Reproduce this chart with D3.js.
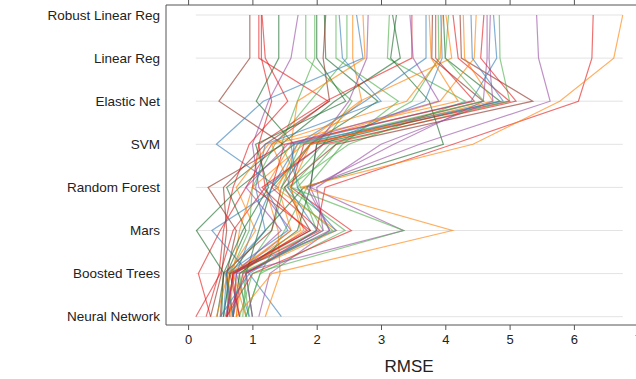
<!DOCTYPE html>
<html>
<head>
<meta charset="utf-8">
<script src="https://cdn.jsdelivr.net/npm/d3@7"></script>
<style>
  body { margin: 0; background: #fff; }
  svg { display: block; font-family: "Liberation Sans", Arial, sans-serif; }
</style>
</head>
<body>
<div id="chart"></div>
<script>
// model order, top to bottom
const models = ["Robust Linear Reg", "Linear Reg", "Elastic Net", "SVM",
                "Random Forest", "Mars", "Boosted Trees", "Neural Network"];

// RMSE per resample (index = resample), one array per model
const robustLinearReg = [0.96, 1.10, 1.14, 1.41, 1.71, 1.83, 1.97, 2.12, 2.14, 2.30, 2.47, 2.56,
  2.62, 2.72, 2.80, 3.13, 3.18, 3.24, 3.48, 3.70, 3.80, 3.89, 3.93, 3.97, 4.01, 4.12, 4.23, 4.28,
  4.48, 4.65, 4.70, 4.75, 4.84, 5.42, 6.30, 6.76,
  3.85, 3.75, 2.35, 4.05, 3.45, 2.00, 4.60, 4.40, 3.95, 1.15];
const linearReg = [0.96, 1.10, 1.14, 1.41, 1.60, 1.83, 1.97, 2.14, 2.10, 2.30, 2.47, 2.56,
  2.72, 2.75, 2.78, 3.10, 3.30, 3.15, 3.48, 3.70, 3.79, 3.90, 3.95, 4.00, 4.10, 4.20, 4.25, 4.30,
  4.45, 4.65, 4.68, 4.80, 4.85, 5.45, 6.28, 6.62,
  3.85, 3.78, 2.40, 4.00, 3.50, 2.00, 4.55, 4.42, 3.92, 1.20];
const elasticNet = [0.48, 2.18, 1.30, 1.06, 1.25, 2.55, 1.70, 2.95, 2.20, 3.27, 1.90, 2.70,
  1.17, 1.70, 2.50, 4.31, 2.28, 3.75, 2.14, 2.75, 4.59, 3.48, 3.68, 4.85, 2.67, 5.00, 5.36, 4.74,
  3.92, 4.59, 4.74, 4.40, 5.00, 5.63, 6.07, 5.78,
  4.45, 4.20, 3.00, 4.60, 3.90, 2.45, 5.10, 4.90, 3.40, 1.55];
const svm = [1.48, 1.30, 1.10, 1.65, 1.00, 2.10, 1.45, 1.90, 1.20, 2.40, 1.35, 1.90,
  0.44, 1.60, 2.00, 2.50, 1.45, 3.97, 1.10, 1.70, 1.90, 2.30, 2.10, 2.00, 1.80, 1.80, 2.30, 1.90,
  1.70, 3.20, 3.00, 1.60, 2.20, 3.60, 4.12, 4.43,
  1.50, 1.30, 1.20, 1.75, 1.55, 1.05, 2.10, 1.65, 1.25, 0.95];
const randomForest = [0.31, 0.90, 1.20, 0.80, 1.10, 1.50, 1.75, 1.30, 0.55, 1.85, 1.00, 1.60,
  1.40, 1.20, 1.90, 1.55, 0.60, 1.80, 1.00, 1.30, 1.45, 1.70, 1.20, 1.90, 1.00, 1.60, 1.50, 1.35,
  1.40, 1.90, 2.00, 1.70, 1.60, 1.85, 2.13, 1.75,
  1.30, 1.60, 1.05, 1.45, 0.90, 1.25, 1.15, 1.55, 0.75, 0.70];
const mars = [0.75, 0.50, 0.70, 0.13, 1.60, 1.30, 2.00, 1.10, 0.60, 1.50, 0.95, 1.80,
  0.37, 1.40, 2.20, 2.44, 0.90, 1.20, 1.90, 1.00, 1.30, 2.10, 1.55, 1.70, 0.80, 2.54, 1.90, 2.31,
  1.60, 3.35, 2.10, 2.30, 3.35, 2.20, 2.00, 4.11,
  2.05, 1.75, 1.20, 2.25, 1.45, 0.85, 1.85, 2.00, 1.05, 0.55];
const boostedTrees = [0.60, 0.16, 0.50, 0.56, 0.75, 0.85, 0.70, 0.90, 0.52, 1.12, 0.65, 0.80,
  0.95, 1.43, 1.27, 1.12, 0.60, 0.65, 0.70, 0.75, 0.55, 0.90, 0.60, 0.80, 0.70, 1.00, 0.65, 0.85,
  0.70, 0.75, 0.90, 0.60, 1.00, 0.85, 0.90, 1.30,
  0.70, 0.62, 0.58, 0.80, 0.72, 0.55, 0.68, 0.95, 0.62, 0.48];
const neuralNetwork = [0.65, 0.35, 0.12, 0.45, 0.70, 0.95, 0.60, 1.00, 0.35, 0.90, 0.55, 0.75,
  1.45, 1.20, 1.10, 0.90, 0.70, 0.55, 0.60, 0.95, 0.50, 0.85, 0.62, 0.70, 0.90, 0.60, 0.80, 0.75,
  0.65, 0.70, 1.00, 0.55, 0.80, 0.70, 0.60, 0.75,
  0.60, 0.68, 0.70, 0.90, 0.58, 0.52, 0.80, 0.50, 0.44, 0.28];

const xTicks = [0, 1, 2, 3, 4, 5, 6, 7];

// line colours, one per resample
const red = "#e41a1c", blue = "#377eb8", green = "#4daf4a", dkgreen = "#1a6b2a",
      purple = "#984ea3", orange = "#ff7f00", brown = "#8c2d1e";
const lineColors = [brown, red, red, dkgreen, purple, green, green, dkgreen, brown, green, green, orange,
  blue, orange, purple, green, dkgreen, dkgreen, red, blue, brown, green, blue, dkgreen, orange, red,
  brown, orange, orange, purple, purple, blue, green, purple, red, orange,
  red, orange, blue, green, purple, dkgreen, red, blue, orange, red];

const columns = [robustLinearReg, linearReg, elasticNet, svm, randomForest, mars, boostedTrees, neuralNetwork];
const lines = robustLinearReg.map((_, i) => models.map((m, j) => ({ model: m, value: columns[j][i] })));

const W = 636, H = 379;
const frameLeft = 166, frameTop = 5, frameBottom = 325;

const svg = d3.select("#chart").append("svg")
  .attr("width", W)
  .attr("height", H);

const x = d3.scaleLinear().domain([0, 7]).range([188.1, 638.2]);
const y = d3.scalePoint().domain(models).range([15, 316.7]);

// grid lines span the data
const allVals = columns.flat();
const [minV, maxV] = d3.extent(allVals);
svg.append("g")
  .selectAll("line")
  .data(models)
  .join("line")
  .attr("x1", x(minV))
  .attr("x2", x(maxV))
  .attr("y1", d => y(d))
  .attr("y2", d => y(d))
  .attr("stroke", "#e3e3e3")
  .attr("stroke-width", 1);

// resample lines
const line = d3.line()
  .x(d => x(d.value))
  .y(d => y(d.model));

svg.append("g")
  .selectAll("path")
  .data(lines)
  .join("path")
  .attr("d", line)
  .attr("fill", "none")
  .attr("stroke", (d, i) => lineColors[i % lineColors.length])
  .attr("stroke-opacity", 0.62)
  .attr("stroke-width", 1.2);

// bottom axis
const bottomAxis = svg.append("g")
  .attr("transform", `translate(0,${frameBottom})`)
  .call(d3.axisBottom(x).tickValues(xTicks).tickFormat(d3.format("d"))
    .tickSize(5).tickSizeOuter(0).tickPadding(5));
bottomAxis.select(".domain").remove();
bottomAxis.selectAll("line").attr("stroke", "#555");
bottomAxis.selectAll("text")
  .attr("fill", "#222")
  .style("font-size", "13px");

// top axis (ticks only, no labels)
const topAxis = svg.append("g")
  .attr("transform", `translate(0,${frameTop})`)
  .call(d3.axisTop(x).tickValues(xTicks).tickSize(5).tickSizeOuter(0).tickFormat(""));
topAxis.select(".domain").remove();
topAxis.selectAll("line").attr("stroke", "#555");

// frame lines
svg.append("line")
  .attr("x1", frameLeft).attr("x2", W)
  .attr("y1", frameBottom).attr("y2", frameBottom)
  .attr("stroke", "#555");
svg.append("line")
  .attr("x1", frameLeft).attr("x2", W)
  .attr("y1", frameTop).attr("y2", frameTop)
  .attr("stroke", "#555");
svg.append("line")
  .attr("x1", frameLeft).attr("x2", frameLeft)
  .attr("y1", frameTop).attr("y2", frameBottom)
  .attr("stroke", "#555");

// model labels
svg.append("g")
  .selectAll("text")
  .data(models)
  .join("text")
  .attr("x", 160)
  .attr("y", d => y(d))
  .attr("dy", "0.35em")
  .attr("text-anchor", "end")
  .attr("fill", "#222")
  .style("font-size", "13.5px")
  .text(d => d);

// axis title
svg.append("text")
  .attr("x", 409)
  .attr("y", 372)
  .attr("text-anchor", "middle")
  .attr("fill", "#222")
  .style("font-size", "17px")
  .text("RMSE");
</script>
</body>
</html>
